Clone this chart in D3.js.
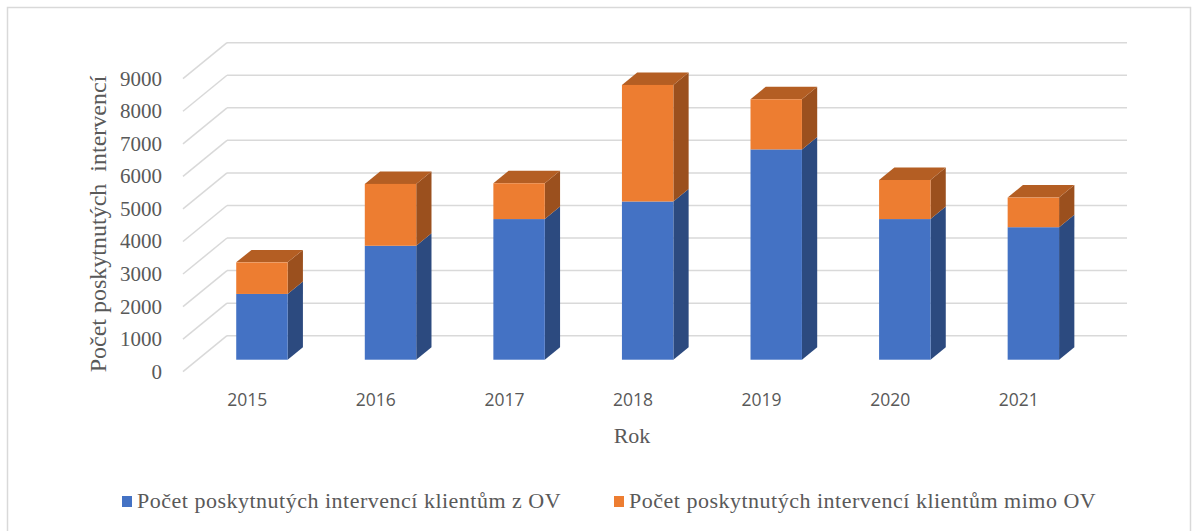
<!DOCTYPE html>
<html lang="cs">
<head>
<meta charset="UTF-8">
<title>Intervence</title>
<script src="https://d3js.org/d3.v7.min.js"></script>
<style>
    body { margin: 0; background: #fff; }
    svg { display: block; }
    .serif { font-family: "Liberation Serif", "Times New Roman", serif; fill: #595959; }
    .sans { font-family: "Open Sans", "Liberation Sans", sans-serif; fill: #595959; }
</style>
</head>
<body>
<div id="chart"></div>
<script>
    // data
    const years = ["2015", "2016", "2017", "2018", "2019", "2020", "2021"];
    const inOV = [2020, 3500, 4320, 4860, 6460, 4320, 4070];     // klientům z OV
    const outOV = [970, 1900, 1100, 3580, 1540, 1200, 910];      // klientům mimo OV
    const yTicks = [0, 1000, 2000, 3000, 4000, 5000, 6000, 7000, 8000, 9000];
    const seriesNames = ["Počet poskytnutých intervencí klientům z OV",
                         "Počet poskytnutých intervencí klientům mimo OV"];

    const W = 1197, H = 531;
    const svg = d3.select("#chart").append("svg")
        .attr("width", W)
        .attr("height", H);

    // chart frame
    svg.append("rect")
        .attr("x", 7.5).attr("y", 7.5)
        .attr("width", 1183).attr("height", 560)
        .attr("fill", "none")
        .attr("stroke", "#d9d9d9")
        .attr("stroke-width", 1.5);

    /* ---- 3D geometry: back wall plane + depth offset ---- */
    const depth = { dx: -44, dy: 36 };      // back wall -> front edge of floor
    const fFront = 0.667, fBack = 0.32;      // bar faces as fraction of depth

    const x = d3.scaleBand()
        .domain(years)
        .range([227, 1127])
        .paddingInner(0.6)
        .paddingOuter(0.3);

    const y = d3.scaleLinear()
        .domain([0, 9000])
        .range([335.7, 42.7]);

    // gridlines: back wall + left wall
    const grid = svg.append("g")
        .attr("stroke", "#d9d9d9")
        .attr("stroke-width", 1.5)
        .attr("fill", "none");
    grid.selectAll("line.back")
        .data(yTicks)
        .enter().append("line")
        .attr("class", "back")
        .attr("x1", 227).attr("x2", 1127)
        .attr("y1", d => y(d)).attr("y2", d => y(d));
    grid.selectAll("line.side")
        .data(yTicks)
        .enter().append("line")
        .attr("class", "side")
        .attr("x1", 227 + depth.dx).attr("y1", d => y(d) + depth.dy)
        .attr("x2", 227).attr("y2", d => y(d));

    // y tick labels
    svg.append("g").selectAll("text")
        .data(yTicks)
        .enter().append("text")
        .attr("class", "serif")
        .attr("x", 162)
        .attr("y", d => y(d) + depth.dy)
        .attr("dy", "0.33em")
        .attr("text-anchor", "end")
        .style("font-size", "21px")
        .text(d => d);

    // bars
    const colors = [
        { front: "#4472c4", side: "#2c4a7f", top: "#3a63ab" },
        { front: "#ed7d31", side: "#9b501e", top: "#b45e23" }
    ];
    const stacked = years.map((yr, i) => ({
        year: yr,
        segs: [
            { s: 0, v0: 0, v1: inOV[i] },
            { s: 1, v0: inOV[i], v1: inOV[i] + outOV[i] }
        ]
    }));

    const fx = depth.dx * fFront, fy = depth.dy * fFront;   // front face offset
    const bx = depth.dx * fBack, by = depth.dy * fBack;     // back face offset
    const ox = bx - fx, oy = by - fy;                       // front -> back

    const bars = svg.append("g").selectAll("g")
        .data(stacked)
        .enter().append("g");

    bars.each(function (d) {
        const g = d3.select(this);
        const x0 = x(d.year) + fx, x1 = x0 + x.bandwidth();
        d.segs.forEach((sg, k) => {
            const c = colors[sg.s];
            const yt = y(sg.v1) + fy, yb = y(sg.v0) + fy;
            // side face
            g.append("path")
                .attr("d", `M${x1},${yb}L${x1 + ox},${yb + oy}L${x1 + ox},${yt + oy}L${x1},${yt}Z`)
                .attr("fill", c.side);
            // top face (only the last segment shows it)
            if (k === d.segs.length - 1) {
                g.append("path")
                    .attr("d", `M${x0},${yt}L${x0 + ox},${yt + oy}L${x1 + ox},${yt + oy}L${x1},${yt}Z`)
                    .attr("fill", c.top);
            }
            // front face
            g.append("rect")
                .attr("x", x0).attr("y", yt)
                .attr("width", x.bandwidth())
                .attr("height", yb - yt)
                .attr("fill", c.front);
        });
    });

    // category labels on the front floor edge
    svg.append("g").selectAll("text")
        .data(years)
        .enter().append("text")
        .attr("class", "sans")
        .attr("x", d => x(d) + x.bandwidth() / 2 + depth.dx)
        .attr("y", 400)
        .attr("dy", "0.35em")
        .attr("text-anchor", "middle")
        .style("font-size", "17.5px")
        .text(d => d);

    // axis titles
    svg.append("text")
        .attr("class", "serif")
        .attr("x", 632).attr("y", 435)
        .attr("dy", "0.35em")
        .attr("text-anchor", "middle")
        .style("font-size", "22px")
        .text("Rok");

    svg.append("text")
        .attr("class", "serif")
        .attr("transform", "translate(98,224) rotate(-90)")
        .attr("dy", "0.35em")
        .attr("text-anchor", "middle")
        .style("font-size", "24px")
        .style("white-space", "pre")
        .text("Počet poskytnutých  intervencí");

    // legend
    const legendX = [122, 614];
    const legend = svg.append("g").selectAll("g")
        .data(seriesNames)
        .enter().append("g")
        .attr("transform", (d, i) => `translate(${legendX[i]},501)`);
    legend.append("rect")
        .attr("x", 0).attr("y", -5)
        .attr("width", 10).attr("height", 11)
        .attr("fill", (d, i) => colors[i].front);
    legend.append("text")
        .attr("class", "serif")
        .attr("x", 15)
        .attr("dy", "0.33em")
        .style("font-size", "22px")
        .style("letter-spacing", "0.5px")
        .text(d => d);
</script>
</body>
</html>
